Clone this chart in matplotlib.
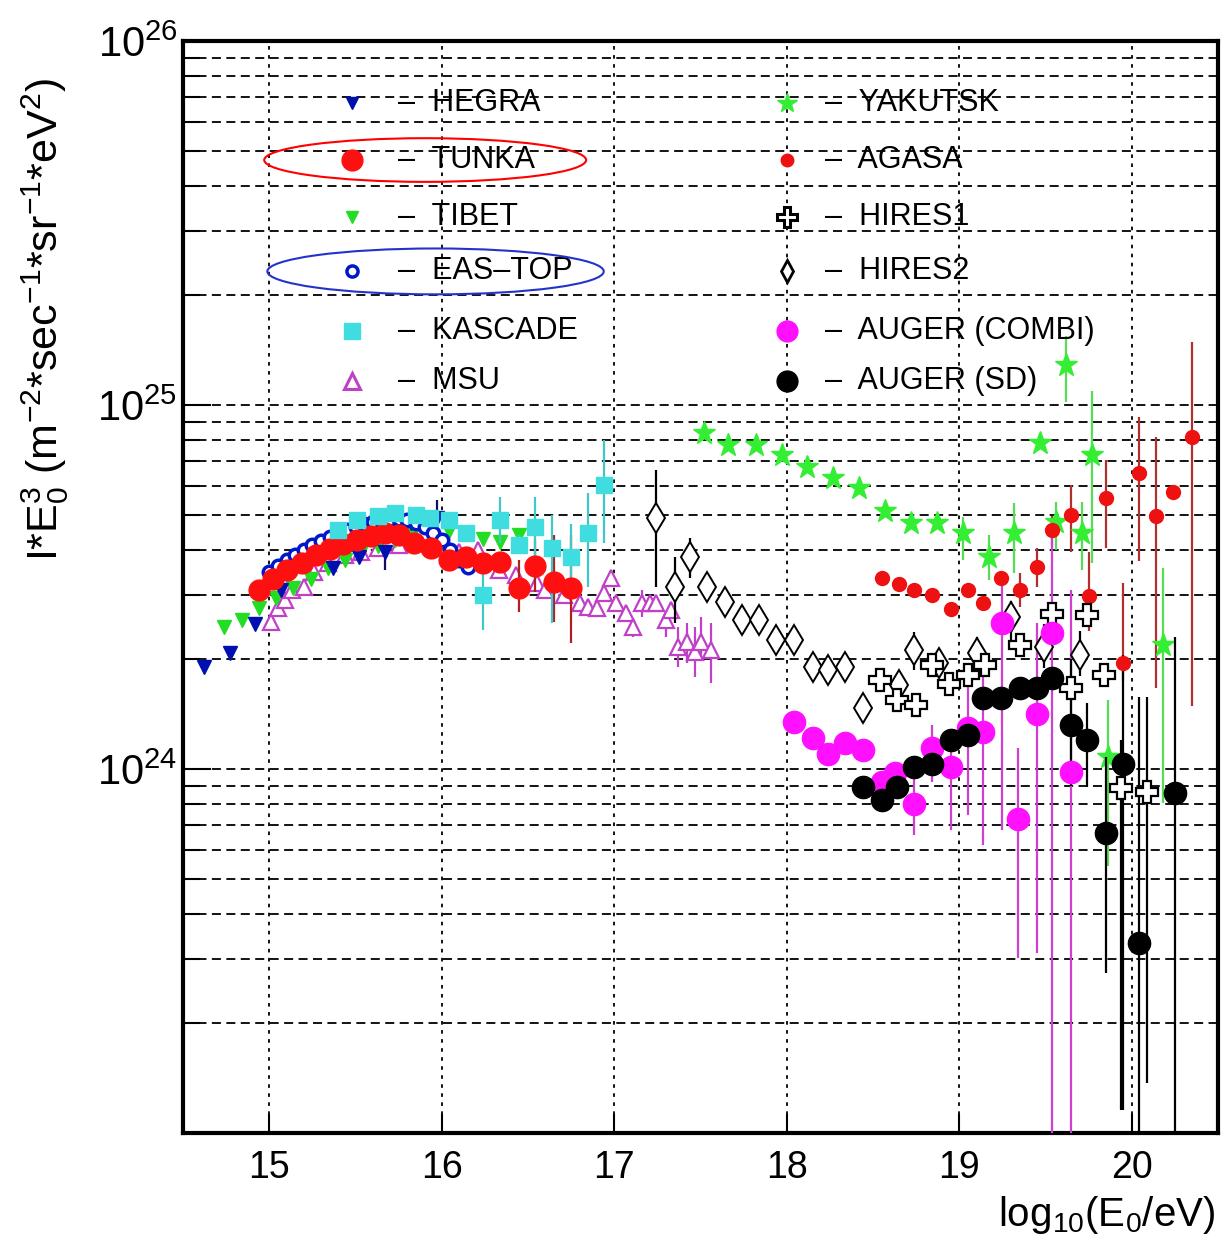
import numpy as np
import matplotlib
matplotlib.use('Agg')
import matplotlib.pyplot as plt
from matplotlib.patches import Ellipse
from matplotlib.ticker import FixedLocator, LogLocator, NullFormatter, FuncFormatter

plt.rcParams['font.family'] = ['Liberation Sans', 'DejaVu Sans']
plt.rcParams['mathtext.fontset'] = 'custom'
plt.rcParams['mathtext.rm'] = 'Liberation Sans'
plt.rcParams['mathtext.it'] = 'Liberation Sans:italic'
plt.rcParams['mathtext.bf'] = 'Liberation Sans:bold'

nan = np.nan
E24 = 1e24  # all flux values below are in units of 1e24

# ---- data: log10(E/eV) and I*E^3 (x1e24), error bar low/high (nan = none) ----
hegra_x = [14.62, 14.77, 14.92, 15.07, 15.37, 15.52, 15.67, 15.82, 15.97]
hegra_y = [1.91, 2.08, 2.50, 3.10, 3.56, 3.82, 3.94, 4.75, 4.90]
hegra_lo = [nan, nan, nan, nan, nan, nan, 3.52, nan, 4.62]
hegra_hi = [nan, nan, nan, nan, nan, nan, 4.00, nan, 5.48]

tibet_x = [14.74, 14.84, 14.94, 15.04, 15.14, 15.24, 15.34, 15.44, 15.53, 15.63,
           15.73, 15.83, 15.93, 16.04, 16.14, 16.24, 16.34, 16.45]
tibet_y = [2.45, 2.57, 2.77, 2.95, 3.14, 3.33, 3.56, 3.75, 3.94, 4.10,
           4.26, 4.39, 4.52, 4.52, 4.45, 4.28, 4.21, 4.39]

msu_x = [15.01, 15.05, 15.09, 15.13, 15.20, 15.26, 15.34, 15.44, 15.53, 15.63,
         15.75, 15.86, 15.98, 16.10, 16.21, 16.33, 16.43, 16.55, 16.60, 16.71,
         16.80, 16.85, 16.90, 16.94, 16.98, 17.01, 17.07, 17.11, 17.16, 17.21,
         17.24, 17.30, 17.33, 17.37, 17.42, 17.47, 17.50, 17.56]
msu_y = [2.53, 2.77, 2.91, 3.10, 3.16, 3.48, 3.68, 3.87, 3.94, 4.05,
         4.12, 4.18, 4.08, 3.94, 4.00, 3.52, 3.41, 3.24, 3.10, 3.01,
         2.86, 2.79, 2.77, 3.05, 3.35, 2.86, 2.69, 2.45, 2.86, 2.86,
         2.86, 2.57, 2.74, 2.16, 2.23, 2.10, 2.23, 2.12]
msu_lo = [nan] * 27 + [2.30, 2.62, nan, nan, 2.30, nan, 1.91, 1.96, 1.79, 1.98, 1.72]
msu_hi = [nan] * 27 + [2.60, 3.10, nan, nan, 2.72, nan, 2.45, 2.52, 2.45, 2.62, 2.52]

eastop_x = [15.00, 15.05, 15.10, 15.15, 15.20, 15.25, 15.30, 15.35, 15.40, 15.45,
            15.50, 15.55, 15.60, 15.65, 15.70, 15.75, 15.80, 15.85, 15.90, 15.95,
            16.00, 16.05, 16.10, 16.15]
eastop_y = [3.48, 3.62, 3.75, 3.88, 4.00, 4.12, 4.23, 4.34, 4.45, 4.54,
            4.62, 4.70, 4.77, 4.82, 4.86, 4.87, 4.83, 4.75, 4.62, 4.45,
            4.26, 4.00, 3.75, 3.58]

tunka_x = [14.94, 15.02, 15.10, 15.19, 15.27, 15.35, 15.43, 15.51, 15.59, 15.67,
           15.75, 15.84, 15.94, 16.04, 16.14, 16.24, 16.34, 16.45, 16.54, 16.65, 16.75]
tunka_y = [3.10, 3.33, 3.52, 3.68, 3.87, 4.02, 4.15, 4.26, 4.37, 4.45,
           4.39, 4.18, 4.05, 3.75, 3.82, 3.68, 3.71, 3.14, 3.61, 3.27, 3.14]
tunka_lo = [nan] * 17 + [2.70, 3.07, 2.53, 2.22]
tunka_hi = [nan] * 17 + [3.75, 4.26, 4.39, 4.39]

kascade_x = [15.40, 15.51, 15.63, 15.73, 15.85, 15.93, 16.04, 16.14, 16.24, 16.34,
             16.45, 16.54, 16.64, 16.75, 16.85, 16.94]
kascade_y = [4.54, 4.83, 4.95, 5.05, 4.99, 4.90, 4.83, 4.45, 3.01, 4.83,
             4.12, 4.62, 4.05, 3.82, 4.45, 6.03]
kascade_lo = [nan] * 8 + [2.41, 4.18, 3.90, 3.75, 2.52, 3.16, 3.16, 4.18]
kascade_hi = [nan] * 8 + [3.75, 5.58, 4.40, 5.58, 4.99, 4.70, 5.73, 8.02]

yakutsk_x = [17.52, 17.66, 17.82, 17.97, 18.12, 18.27, 18.42, 18.57, 18.72, 18.87,
             19.02, 19.17, 19.32, 19.47, 19.56, 19.62, 19.71, 19.77, 19.86, 20.18]
yakutsk_y = [8.38, 7.76, 7.76, 7.29, 6.76, 6.30, 5.92, 5.12, 4.74, 4.74,
             4.45, 3.82, 4.45, 7.87, 4.77, 12.9, 4.45, 7.29, 1.08, 2.19]
yakutsk_lo = [nan] * 10 + [3.75, 3.31, 3.45, nan, 4.00, 10.2, 3.52, 3.68, 0.54, 0.807]
yakutsk_hi = [nan] * 10 + [4.92, 4.39, 5.38, nan, 5.40, 15.5, 5.41, 10.9, 1.55, 3.56]

agasa_x = [18.55, 18.65, 18.74, 18.84, 18.95, 19.05, 19.14, 19.24, 19.35, 19.45,
           19.54, 19.65, 19.75, 19.85, 19.95, 20.04, 20.14, 20.24, 20.35]
agasa_y = [3.35, 3.22, 3.10, 3.01, 2.75, 3.10, 2.86, 3.35, 3.10, 3.59,
           4.54, 4.99, 2.99, 5.56, 1.96, 6.51, 4.96, 5.77, 8.17]
agasa_lo = [nan] * 8 + [2.79, 3.16, 4.10, 3.94, 2.40, 4.05, 1.75, 3.72, 1.67, nan, 1.49]
agasa_hi = [nan] * 8 + [3.45, 4.05, 4.95, 6.03, 3.94, 7.06, 3.24, 9.27, 8.17, nan, 14.9]

hires1_x = [18.54, 18.64, 18.75, 18.84, 18.94, 19.05, 19.15, 19.35, 19.54, 19.65,
            19.74, 19.84, 19.94, 20.09]
hires1_y = [1.76, 1.55, 1.50, 1.93, 1.71, 1.81, 1.93, 2.19, 2.67, 1.67,
            2.65, 1.81, 0.887, 0.865]
hires1_lo = [nan] * 12 + [0.116, 0.137]
hires1_hi = [nan] * 12 + [1.20, 1.58]

hires2_x = [17.24, 17.35, 17.44, 17.54, 17.64, 17.74, 17.84, 17.94, 18.04, 18.15,
            18.24, 18.34, 18.44, 18.65, 18.74, 18.88, 19.10, 19.30, 19.49, 19.70]
hires2_y = [4.90, 3.16, 3.82, 3.16, 2.88, 2.57, 2.57, 2.26, 2.26, 1.91,
            1.87, 1.91, 1.47, 1.70, 2.12, 1.96, 2.08, 2.62, 2.16, 2.06]
hires2_lo = [3.16, 2.52, 3.35] + [nan] * 9 + [1.34, nan, 1.87, nan, 1.79, 2.20, 1.90, 1.80]
hires2_hi = [6.63, 3.82, 4.31] + [nan] * 9 + [1.58, nan, 2.38, nan, 2.30, 2.90, 2.50, 2.40]

combi_x = [18.04, 18.15, 18.24, 18.34, 18.44, 18.55, 18.63, 18.74, 18.84, 18.95,
           19.05, 19.14, 19.25, 19.34, 19.45, 19.54, 19.65]
combi_y = [1.35, 1.22, 1.10, 1.18, 1.13, 0.921, 0.975, 0.802, 1.14, 1.01,
           1.30, 1.26, 2.52, 0.730, 1.42, 2.36, 0.982]
combi_lo = [nan] * 7 + [0.659, 0.921, 0.680, 0.748, 0.618, 0.680, 0.303, 0.313, 0.08, 0.08]
combi_hi = [nan] * 7 + [0.975, 1.32, 1.20, 1.79, 1.79, 3.40, 1.14, 2.52, 4.45, 3.10]

sd_x = [18.44, 18.55, 18.64, 18.74, 18.84, 18.95, 19.05, 19.14, 19.24, 19.35,
        19.45, 19.54, 19.65, 19.74, 19.85, 19.95, 20.04, 20.25]
sd_y = [0.894, 0.823, 0.894, 1.01, 1.03, 1.20, 1.24, 1.57, 1.57, 1.67,
        1.67, 1.78, 1.32, 1.20, 0.667, 1.03, 0.333, 0.860]
sd_lo = [nan] * 12 + [0.90, 0.894, 0.275, 0.116, 0.08, 0.08]
sd_hi = [nan] * 12 + [2.00, 1.52, 1.08, 2.06, 1.58, 2.30]

fig = plt.figure(figsize=(12.26, 12.5), dpi=100)
ax = fig.add_axes([183 / 1226, 117 / 1250, 1035 / 1226, 1092 / 1250])
ax.set_yscale('log')
ax.set_xlim(14.5, 20.5)
ax.set_ylim(1e23, 1e26)


def draw(x, y, marker, color, ms, lo=None, hi=None, face=None, mew=1.0,
         ecolor=None, z=3):
    x = np.asarray(x, float)
    y = np.asarray(y, float) * E24
    if lo is not None:
        lo = np.asarray(lo, float) * E24
        hi = np.asarray(hi, float) * E24
        ok = np.isfinite(lo)
        ax.vlines(x[ok], lo[ok], hi[ok], colors=ecolor or color, lw=1.6, zorder=z - 0.5)
    ax.plot(x, y, ls='none', marker=marker, ms=ms, mfc=face or color, mec=color,
            mew=mew, zorder=z)


draw(msu_x, msu_y, '^', '#c040c8', 11, msu_lo, msu_hi, face='white', mew=1.6, z=2)
draw(tibet_x, tibet_y, 'v', '#22dd22', 10, z=2.2)
draw(hegra_x, hegra_y, 'v', '#0010b0', 10, hegra_lo, hegra_hi, ecolor='#101060', z=2.4)
draw(eastop_x, eastop_y, 'o', '#0018c8', 9, face='white', mew=2.5, z=2.6)
draw(tunka_x, tunka_y, 'o', '#ff1010', 15, tunka_lo, tunka_hi, ecolor='#b02020', z=3)
draw(kascade_x, kascade_y, 's', '#40dde0', 12, kascade_lo, kascade_hi, ecolor='#40c8c8', z=3.2)
draw(hires2_x, hires2_y, 'd', 'black', 15, hires2_lo, hires2_hi, face='white', mew=1.4, z=3)
draw(hires1_x, hires1_y, 'P', 'black', 16, hires1_lo, hires1_hi, face='white', mew=1.6, z=3.3)
draw(yakutsk_x, yakutsk_y, '*', '#33ee33', 17, yakutsk_lo, yakutsk_hi, ecolor='#55dd55', z=3)
draw(agasa_x, agasa_y, 'o', '#ee1111', 10, agasa_lo, agasa_hi, ecolor='#b03030', z=3.1)
draw(combi_x, combi_y, 'o', '#ff10ff', 16, combi_lo, combi_hi, ecolor='#d040d0', z=3.4)
draw(sd_x, sd_y, 'o', 'black', 16, sd_lo, sd_hi, z=3.5)

# axes, ticks and grid
ax.xaxis.set_major_locator(FixedLocator([15, 16, 17, 18, 19, 20]))
ax.yaxis.set_major_locator(FixedLocator([1e24, 1e25, 1e26]))
ax.yaxis.set_minor_locator(LogLocator(base=10, subs=np.arange(2, 10)))
ax.yaxis.set_minor_formatter(NullFormatter())
ax.yaxis.set_major_formatter(FuncFormatter(lambda v, p: r'$10^{%d}$' % round(np.log10(v))))
ax.tick_params(axis='y', which='major', direction='in', length=20, width=1.5,
               labelsize=30, pad=4, right=False)
ax.tick_params(axis='y', which='minor', direction='in', length=12, width=1.5, right=False)
ax.tick_params(axis='x', which='major', direction='in', length=14, width=1.5,
               labelsize=27, pad=12, top=False)
ax.grid(True, which='both', axis='y', color='black', ls=(0, (5, 3)), lw=1.3, zorder=1)
ax.grid(True, which='major', axis='x', color='black', ls=(0, (2, 3)), lw=1.3, zorder=1)
ax.set_axisbelow(True)
for s in ax.spines.values():
    s.set_linewidth(3)

# hand-made legend in two columns
left = [('HEGRA', 'v', '#0010b0', 9, None, 1.0),
        ('TUNKA', 'o', '#ff1010', 15, None, 1.0),
        ('TIBET', 'v', '#22dd22', 9, None, 1.0),
        ('EAS–TOP', 'o', '#0018c8', 8, 'white', 2.5),
        ('KASCADE', 's', '#40dde0', 11, None, 1.0),
        ('MSU', '^', '#c040c8', 11, 'white', 2.2)]
right = [('YAKUTSK', '*', '#33ee33', 15, None, 1.0),
         ('AGASA', 'o', '#ee1111', 9, None, 1.0),
         ('HIRES1', 'P', 'black', 14, 'white', 2.2),
         ('HIRES2', 'd', 'black', 11, 'white', 2.0),
         ('AUGER (COMBI)', 'o', '#ff10ff', 15, None, 1.0),
         ('AUGER (SD)', 'o', 'black', 15, None, 1.0)]
rows = [0.943, 0.891, 0.839, 0.789, 0.734, 0.689]
for col, mx, tx in [(left, 0.163, 0.208), (right, 0.584, 0.620)]:
    for (name, m, c, ms, fc, mw), ry in zip(col, rows):
        ax.plot([mx], [ry], transform=ax.transAxes, ls='none', marker=m, ms=ms,
                mfc=fc or c, mec=c, mew=mw, zorder=5)
        ax.text(tx, ry, '–  ' + name, transform=ax.transAxes, fontsize=22,
                va='center', ha='left', zorder=5)

ax.add_patch(Ellipse((0.234, 0.891), 0.311, 0.040, transform=ax.transAxes,
                     fill=False, ec='red', lw=1.5, zorder=6))
ax.add_patch(Ellipse((0.244, 0.789), 0.325, 0.042, transform=ax.transAxes,
                     fill=False, ec='#2233cc', lw=1.5, zorder=6))

fig.text(0.037, 0.744, r'I*E$_0^3$ (m$^{-2}$*sec$^{-1}$*sr$^{-1}$*eV$^2$)',
         rotation=90, fontsize=31, ha='center', va='center')
fig.text(0.991, 0.028, r'log$_{10}$(E$_0$/eV)', ha='right', va='center', fontsize=29)

fig.savefig('out.png', dpi=100)
